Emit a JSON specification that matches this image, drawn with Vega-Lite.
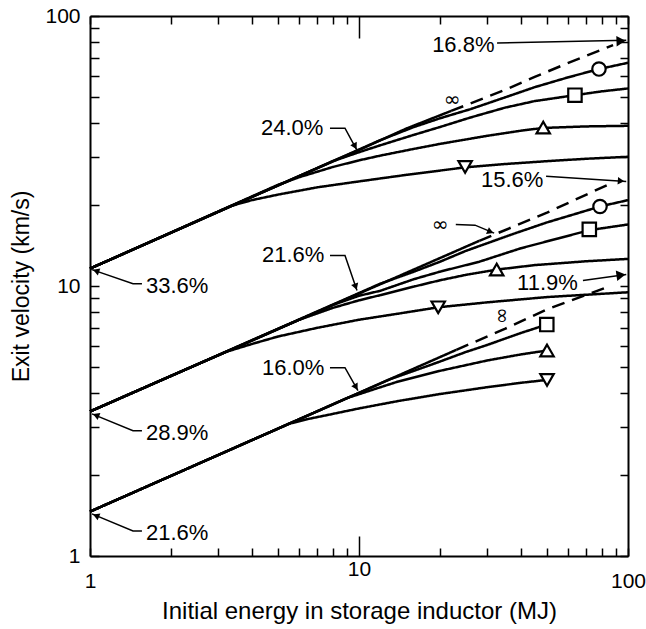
{
  "$schema": "https://vega.github.io/schema/vega-lite/v6.json",
  "width": 538,
  "height": 540,
  "autosize": {"type": "none"},
  "padding": {"left": 90, "top": 16, "right": 18, "bottom": 73},
  "background": "white",
  "config": {"view": {"stroke": null}, "font": "Liberation Sans"},
  "datasets": {
    "curves": [
      {"series": "A-inf", "trace": "computed", "E": 1, "v": 11.6},
      {"series": "A-inf", "trace": "computed", "E": 3.35, "v": 19.8},
      {"series": "A-inf", "trace": "computed", "E": 10, "v": 31.9},
      {"series": "A-inf", "trace": "computed", "E": 15, "v": 38.3},
      {"series": "A-inf", "trace": "computed", "E": 22, "v": 44.5},
      {"series": "A-inf-x", "trace": "extrapolated", "E": 22, "v": 44.5},
      {"series": "A-inf-x", "trace": "extrapolated", "E": 35, "v": 53.3},
      {"series": "A-inf-x", "trace": "extrapolated", "E": 45, "v": 59.5},
      {"series": "A-inf-x", "trace": "extrapolated", "E": 60, "v": 67},
      {"series": "A-inf-x", "trace": "extrapolated", "E": 88, "v": 78},
      {"series": "A-o", "trace": "computed", "E": 1, "v": 11.6},
      {"series": "A-o", "trace": "computed", "E": 12, "v": 34.7},
      {"series": "A-o", "trace": "computed", "E": 16, "v": 38.8},
      {"series": "A-o", "trace": "computed", "E": 20, "v": 41.8},
      {"series": "A-o", "trace": "computed", "E": 26, "v": 45.2},
      {"series": "A-o", "trace": "computed", "E": 35, "v": 50.0},
      {"series": "A-o", "trace": "computed", "E": 45, "v": 54.5},
      {"series": "A-o", "trace": "computed", "E": 60, "v": 59.3},
      {"series": "A-o", "trace": "computed", "E": 78, "v": 63.6},
      {"series": "A-o", "trace": "computed", "E": 100, "v": 67.1},
      {"series": "A-sq", "trace": "computed", "E": 1, "v": 11.6},
      {"series": "A-sq", "trace": "computed", "E": 8, "v": 29.0},
      {"series": "A-sq", "trace": "computed", "E": 10, "v": 31.3},
      {"series": "A-sq", "trace": "computed", "E": 12, "v": 33.2},
      {"series": "A-sq", "trace": "computed", "E": 16, "v": 36.3},
      {"series": "A-sq", "trace": "computed", "E": 20, "v": 38.8},
      {"series": "A-sq", "trace": "computed", "E": 26, "v": 42.1},
      {"series": "A-sq", "trace": "computed", "E": 35, "v": 45.8},
      {"series": "A-sq", "trace": "computed", "E": 45, "v": 48.4},
      {"series": "A-sq", "trace": "computed", "E": 63.5, "v": 50.9},
      {"series": "A-sq", "trace": "computed", "E": 80, "v": 52.6},
      {"series": "A-sq", "trace": "computed", "E": 100, "v": 53.9},
      {"series": "A-up", "trace": "computed", "E": 1, "v": 11.6},
      {"series": "A-up", "trace": "computed", "E": 5, "v": 23.7},
      {"series": "A-up", "trace": "computed", "E": 6, "v": 25.3},
      {"series": "A-up", "trace": "computed", "E": 8, "v": 27.6},
      {"series": "A-up", "trace": "computed", "E": 10, "v": 29.2},
      {"series": "A-up", "trace": "computed", "E": 12, "v": 30.4},
      {"series": "A-up", "trace": "computed", "E": 16, "v": 32.2},
      {"series": "A-up", "trace": "computed", "E": 20, "v": 33.6},
      {"series": "A-up", "trace": "computed", "E": 30, "v": 36.0},
      {"series": "A-up", "trace": "computed", "E": 40, "v": 37.6},
      {"series": "A-up", "trace": "computed", "E": 48.4, "v": 38.5},
      {"series": "A-up", "trace": "computed", "E": 70, "v": 39.0},
      {"series": "A-up", "trace": "computed", "E": 100, "v": 39.2},
      {"series": "A-dn", "trace": "computed", "E": 1, "v": 11.6},
      {"series": "A-dn", "trace": "computed", "E": 3.35, "v": 19.8},
      {"series": "A-dn", "trace": "computed", "E": 4, "v": 20.8},
      {"series": "A-dn", "trace": "computed", "E": 5, "v": 21.8},
      {"series": "A-dn", "trace": "computed", "E": 7, "v": 23.2},
      {"series": "A-dn", "trace": "computed", "E": 10, "v": 24.4},
      {"series": "A-dn", "trace": "computed", "E": 15, "v": 25.8},
      {"series": "A-dn", "trace": "computed", "E": 24.8, "v": 27.5},
      {"series": "A-dn", "trace": "computed", "E": 35, "v": 28.3},
      {"series": "A-dn", "trace": "computed", "E": 50, "v": 29.0},
      {"series": "A-dn", "trace": "computed", "E": 70, "v": 29.6},
      {"series": "A-dn", "trace": "computed", "E": 100, "v": 30.1},
      {"series": "B-inf", "trace": "computed", "E": 1, "v": 3.43},
      {"series": "B-inf", "trace": "computed", "E": 28, "v": 14.7},
      {"series": "B-inf-x", "trace": "extrapolated", "E": 28, "v": 14.7},
      {"series": "B-inf-x", "trace": "extrapolated", "E": 50, "v": 18.7},
      {"series": "B-inf-x", "trace": "extrapolated", "E": 88, "v": 24.2},
      {"series": "B-o", "trace": "computed", "E": 1, "v": 3.43},
      {"series": "B-o", "trace": "computed", "E": 12, "v": 10.2},
      {"series": "B-o", "trace": "computed", "E": 16, "v": 11.3},
      {"series": "B-o", "trace": "computed", "E": 20, "v": 12.3},
      {"series": "B-o", "trace": "computed", "E": 25, "v": 13.5},
      {"series": "B-o", "trace": "computed", "E": 37.5, "v": 15.6},
      {"series": "B-o", "trace": "computed", "E": 50, "v": 17.2},
      {"series": "B-o", "trace": "computed", "E": 65, "v": 18.6},
      {"series": "B-o", "trace": "computed", "E": 78.7, "v": 19.7},
      {"series": "B-o", "trace": "computed", "E": 100, "v": 20.8},
      {"series": "B-sq", "trace": "computed", "E": 1, "v": 3.43},
      {"series": "B-sq", "trace": "computed", "E": 8, "v": 8.51},
      {"series": "B-sq", "trace": "computed", "E": 10, "v": 9.2},
      {"series": "B-sq", "trace": "computed", "E": 12, "v": 9.6},
      {"series": "B-sq", "trace": "computed", "E": 16, "v": 10.6},
      {"series": "B-sq", "trace": "computed", "E": 20, "v": 11.3},
      {"series": "B-sq", "trace": "computed", "E": 28, "v": 12.3},
      {"series": "B-sq", "trace": "computed", "E": 40, "v": 13.8},
      {"series": "B-sq", "trace": "computed", "E": 55, "v": 15.0},
      {"series": "B-sq", "trace": "computed", "E": 71.8, "v": 16.1},
      {"series": "B-sq", "trace": "computed", "E": 100, "v": 16.9},
      {"series": "B-up", "trace": "computed", "E": 1, "v": 3.43},
      {"series": "B-up", "trace": "computed", "E": 6, "v": 7.5},
      {"series": "B-up", "trace": "computed", "E": 8, "v": 8.3},
      {"series": "B-up", "trace": "computed", "E": 10, "v": 8.85},
      {"series": "B-up", "trace": "computed", "E": 12, "v": 9.25},
      {"series": "B-up", "trace": "computed", "E": 16, "v": 9.95},
      {"series": "B-up", "trace": "computed", "E": 20, "v": 10.5},
      {"series": "B-up", "trace": "computed", "E": 25, "v": 11.0},
      {"series": "B-up", "trace": "computed", "E": 32.5, "v": 11.5},
      {"series": "B-up", "trace": "computed", "E": 45, "v": 11.95},
      {"series": "B-up", "trace": "computed", "E": 70, "v": 12.35},
      {"series": "B-up", "trace": "computed", "E": 100, "v": 12.6},
      {"series": "B-dn", "trace": "computed", "E": 1, "v": 3.43},
      {"series": "B-dn", "trace": "computed", "E": 3.2, "v": 5.7},
      {"series": "B-dn", "trace": "computed", "E": 4, "v": 6.1},
      {"series": "B-dn", "trace": "computed", "E": 5, "v": 6.5},
      {"series": "B-dn", "trace": "computed", "E": 7, "v": 7.0},
      {"series": "B-dn", "trace": "computed", "E": 10, "v": 7.5},
      {"series": "B-dn", "trace": "computed", "E": 14, "v": 7.9},
      {"series": "B-dn", "trace": "computed", "E": 19.7, "v": 8.34},
      {"series": "B-dn", "trace": "computed", "E": 30, "v": 8.7},
      {"series": "B-dn", "trace": "computed", "E": 50, "v": 9.1},
      {"series": "B-dn", "trace": "computed", "E": 100, "v": 9.48},
      {"series": "C-inf", "trace": "computed", "E": 1, "v": 1.46},
      {"series": "C-inf", "trace": "computed", "E": 23, "v": 5.8},
      {"series": "C-inf-x", "trace": "extrapolated", "E": 23, "v": 5.8},
      {"series": "C-inf-x", "trace": "extrapolated", "E": 35, "v": 6.95},
      {"series": "C-inf-x", "trace": "extrapolated", "E": 50, "v": 8.2},
      {"series": "C-inf-x", "trace": "extrapolated", "E": 86, "v": 10.0},
      {"series": "C-sq", "trace": "computed", "E": 1, "v": 1.46},
      {"series": "C-sq", "trace": "computed", "E": 13, "v": 4.51},
      {"series": "C-sq", "trace": "computed", "E": 16, "v": 4.85},
      {"series": "C-sq", "trace": "computed", "E": 20, "v": 5.25},
      {"series": "C-sq", "trace": "computed", "E": 25, "v": 5.7},
      {"series": "C-sq", "trace": "computed", "E": 30, "v": 6.05},
      {"series": "C-sq", "trace": "computed", "E": 40, "v": 6.7},
      {"series": "C-sq", "trace": "computed", "E": 50, "v": 7.2},
      {"series": "C-up", "trace": "computed", "E": 1, "v": 1.46},
      {"series": "C-up", "trace": "computed", "E": 9, "v": 3.84},
      {"series": "C-up", "trace": "computed", "E": 11, "v": 4.1},
      {"series": "C-up", "trace": "computed", "E": 14, "v": 4.43},
      {"series": "C-up", "trace": "computed", "E": 20, "v": 4.85},
      {"series": "C-up", "trace": "computed", "E": 30, "v": 5.3},
      {"series": "C-up", "trace": "computed", "E": 40, "v": 5.58},
      {"series": "C-up", "trace": "computed", "E": 50, "v": 5.77},
      {"series": "C-dn", "trace": "computed", "E": 1, "v": 1.46},
      {"series": "C-dn", "trace": "computed", "E": 5.5, "v": 3.09},
      {"series": "C-dn", "trace": "computed", "E": 6.5, "v": 3.22},
      {"series": "C-dn", "trace": "computed", "E": 8, "v": 3.36},
      {"series": "C-dn", "trace": "computed", "E": 10, "v": 3.52},
      {"series": "C-dn", "trace": "computed", "E": 14, "v": 3.75},
      {"series": "C-dn", "trace": "computed", "E": 20, "v": 3.98},
      {"series": "C-dn", "trace": "computed", "E": 30, "v": 4.22},
      {"series": "C-dn", "trace": "computed", "E": 40, "v": 4.38},
      {"series": "C-dn", "trace": "computed", "E": 50, "v": 4.49}
    ],
    "markers": [
      {"marker": "circle", "E": 78, "v": 63.6},
      {"marker": "square", "E": 63.5, "v": 50.9},
      {"marker": "triangle", "E": 48.4, "v": 38.6},
      {"marker": "inverted triangle", "E": 24.8, "v": 27.6},
      {"marker": "circle", "E": 78.7, "v": 19.7},
      {"marker": "square", "E": 71.8, "v": 16.2},
      {"marker": "triangle", "E": 32.5, "v": 11.5},
      {"marker": "inverted triangle", "E": 19.7, "v": 8.34},
      {"marker": "square", "E": 49.9, "v": 7.2},
      {"marker": "triangle", "E": 50, "v": 5.77},
      {"marker": "inverted triangle", "E": 50, "v": 4.49}
    ],
    "leaders": [
      {"id": "33.6", "step": 1, "E": 1.56, "v": 10.2},
      {"id": "33.6", "step": 2, "E": 1.445, "v": 10.2},
      {"id": "33.6", "step": 3, "E": 1.017, "v": 11.5},
      {"id": "28.9", "step": 1, "E": 1.56, "v": 2.91},
      {"id": "28.9", "step": 2, "E": 1.445, "v": 2.91},
      {"id": "28.9", "step": 3, "E": 1.017, "v": 3.36},
      {"id": "21.6b", "step": 1, "E": 1.56, "v": 1.238},
      {"id": "21.6b", "step": 2, "E": 1.445, "v": 1.238},
      {"id": "21.6b", "step": 3, "E": 1.017, "v": 1.432},
      {"id": "24.0", "step": 1, "E": 7.8, "v": 38.4},
      {"id": "24.0", "step": 2, "E": 8.87, "v": 38.4},
      {"id": "24.0", "step": 3, "E": 9.83, "v": 31.8},
      {"id": "21.6m", "step": 1, "E": 7.8, "v": 12.98},
      {"id": "21.6m", "step": 2, "E": 8.87, "v": 12.98},
      {"id": "21.6m", "step": 3, "E": 9.83, "v": 9.62},
      {"id": "16.0", "step": 1, "E": 7.8, "v": 4.98},
      {"id": "16.0", "step": 2, "E": 8.87, "v": 4.98},
      {"id": "16.0", "step": 3, "E": 9.91, "v": 4.1},
      {"id": "16.8", "step": 1, "E": 32.6, "v": 79.5},
      {"id": "16.8", "step": 2, "E": 98.5, "v": 81.3},
      {"id": "15.6", "step": 1, "E": 49.6, "v": 25.5},
      {"id": "15.6", "step": 2, "E": 98.5, "v": 24.4},
      {"id": "11.9", "step": 1, "E": 68, "v": 10.48},
      {"id": "11.9", "step": 2, "E": 98.5, "v": 11.03},
      {"id": "infB", "step": 1, "E": 22.9, "v": 16.9},
      {"id": "infB", "step": 2, "E": 27, "v": 16.8},
      {"id": "infB", "step": 3, "E": 31.8, "v": 15.7}
    ],
    "arrowheads": [
      {"id": "33.6", "E": 1.053, "v": 11.38, "heading": 199},
      {"id": "28.9", "E": 1.053, "v": 3.32, "heading": 202},
      {"id": "21.6b", "E": 1.053, "v": 1.411, "heading": 202},
      {"id": "24.0", "E": 9.67, "v": 32.9, "heading": 61},
      {"id": "21.6m", "E": 9.72, "v": 9.94, "heading": 71},
      {"id": "16.0", "E": 9.75, "v": 4.22, "heading": 60},
      {"id": "16.8", "E": 94.2, "v": 80.8, "heading": 358},
      {"id": "15.6", "E": 94.2, "v": 24.5, "heading": 4},
      {"id": "11.9", "E": 94.2, "v": 10.97, "heading": 352},
      {"id": "infB", "E": 30.8, "v": 15.87, "heading": 23}
    ],
    "labels": [
      {"text": "33.6%", "E": 1.615, "v": 9.96},
      {"text": "28.9%", "E": 1.615, "v": 2.86},
      {"text": "21.6%", "E": 1.615, "v": 1.217},
      {"text": "24.0%", "E": 4.32, "v": 38.4},
      {"text": "21.6%", "E": 4.36, "v": 12.98},
      {"text": "16.0%", "E": 4.36, "v": 4.98},
      {"text": "16.8%", "E": 18.7, "v": 78},
      {"text": "15.6%", "E": 28.4, "v": 24.6},
      {"text": "11.9%", "E": 38.7, "v": 10.3}
    ],
    "infinity": [
      {"text": "∞", "E": 22.2, "v": 48.8},
      {"text": "∞", "E": 20.0, "v": 16.8}
    ]
  },
  "layer": [
    {
      "data": {"name": "curves"},
      "mark": {"type": "line", "interpolate": "linear", "strokeWidth": 2.5, "color": "black", "strokeJoin": "round"},
      "encoding": {
        "x": {
          "field": "E", "type": "quantitative",
          "scale": {"type": "log", "domain": [1, 100], "nice": false},
          "axis": {
            "orient": "bottom",
            "values": [1, 2, 3, 4, 5, 6, 7, 8, 9, 10, 20, 30, 40, 50, 60, 70, 80, 90, 100],
            "grid": false,
            "tickSize": {"condition": {"test": "datum.value == 10", "value": -20}, "value": -8},
            "tickWidth": 1.5, "tickColor": "black",
            "domainColor": "black", "domainWidth": 2,
            "labelExpr": "datum.value == 1 || datum.value == 10 || datum.value == 100 ? datum.value + '' : ''",
            "labelFont": "Liberation Sans", "labelFontSize": 21, "labelColor": "black",
            "labelBaseline": "alphabetic", "labelPadding": 39, "labelFlush": false, "labelOverlap": false,
            "title": "Initial energy in storage inductor (MJ)",
            "titleFont": "Liberation Sans", "titleFontSize": 24, "titleFontWeight": "normal", "titleColor": "black",
            "titleY": 62, "titleBaseline": "alphabetic"
          }
        },
        "y": {
          "field": "v", "type": "quantitative",
          "scale": {"type": "log", "domain": [1, 100], "nice": false},
          "axis": {
            "orient": "left",
            "values": [1, 2, 3, 4, 5, 6, 7, 8, 9, 10, 20, 30, 40, 50, 60, 70, 80, 90, 100],
            "grid": false,
            "tickSize": -9, "tickWidth": 1.5, "tickColor": "black",
            "domainColor": "black", "domainWidth": 2,
            "labelExpr": "datum.value == 1 || datum.value == 10 || datum.value == 100 ? datum.value + '' : ''",
            "labelFont": "Liberation Sans", "labelFontSize": 21, "labelColor": "black",
            "labelBaseline": "middle", "labelPadding": 19, "labelFlush": false, "labelOverlap": false,
            "title": "Exit velocity (km/s)",
            "titleFont": "Liberation Sans", "titleFontSize": 23, "titleFontWeight": "normal", "titleColor": "black",
            "titleX": -62, "titleY": 270, "titleBaseline": "alphabetic", "titleAlign": "center"
          }
        },
        "detail": {"field": "series", "type": "nominal"},
        "strokeDash": {
          "field": "trace", "type": "nominal",
          "scale": {"domain": ["computed", "extrapolated"], "range": [[1, 0], [13, 8]]},
          "legend": null
        }
      }
    },
    {
      "data": {"name": "markers"},
      "mark": {"type": "point", "filled": true, "fill": "white", "stroke": "black", "strokeWidth": 2.2, "size": 180, "opacity": 1},
      "encoding": {
        "x": {
          "field": "E", "type": "quantitative",
          "scale": {"type": "log", "domain": [1, 100], "nice": false},
          "axis": {
            "orient": "top",
            "values": [1, 2, 3, 4, 5, 6, 7, 8, 9, 10, 20, 30, 40, 50, 60, 70, 80, 90, 100],
            "grid": false, "labels": false, "title": null,
            "tickSize": {"condition": {"test": "datum.value == 10", "value": -22}, "value": -8},
            "tickWidth": 1.5, "tickColor": "black",
            "domainColor": "black", "domainWidth": 2
          }
        },
        "y": {
          "field": "v", "type": "quantitative",
          "scale": {"type": "log", "domain": [1, 100], "nice": false},
          "axis": {
            "orient": "right",
            "values": [1, 2, 3, 4, 5, 6, 7, 8, 9, 10, 20, 30, 40, 50, 60, 70, 80, 90, 100],
            "grid": false, "labels": false, "title": null,
            "tickSize": -8, "tickWidth": 1.5, "tickColor": "black",
            "domainColor": "black", "domainWidth": 2
          }
        },
        "shape": {
          "field": "marker", "type": "nominal",
          "scale": {"domain": ["circle", "square", "triangle", "inverted triangle"], "range": ["circle", "square", "triangle-up", "triangle-down"]},
          "legend": null
        }
      }
    },
    {
      "data": {"name": "leaders"},
      "mark": {"type": "line", "strokeWidth": 1.5, "color": "black"},
      "encoding": {
        "x": {"field": "E", "type": "quantitative", "scale": {"type": "log", "domain": [1, 100], "nice": false}, "axis": null},
        "y": {"field": "v", "type": "quantitative", "scale": {"type": "log", "domain": [1, 100], "nice": false}, "axis": null},
        "detail": {"field": "id", "type": "nominal"},
        "order": {"field": "step", "type": "quantitative"}
      }
    },
    {
      "data": {"name": "arrowheads"},
      "mark": {"type": "point", "shape": "triangle-right", "filled": true, "color": "black", "opacity": 1},
      "encoding": {
        "x": {"field": "E", "type": "quantitative", "scale": {"type": "log", "domain": [1, 100], "nice": false}, "axis": null},
        "y": {"field": "v", "type": "quantitative", "scale": {"type": "log", "domain": [1, 100], "nice": false}, "axis": null},
        "angle": {"field": "heading", "type": "quantitative", "scale": null},
        "size": {"condition": {"test": "datum.id == '16.8' || datum.id == '11.9'", "value": 110}, "value": 55}
      }
    },
    {
      "data": {"name": "labels"},
      "mark": {"type": "text", "align": "left", "baseline": "middle", "font": "Liberation Sans", "fontSize": 22, "color": "black"},
      "encoding": {
        "x": {"field": "E", "type": "quantitative", "scale": {"type": "log", "domain": [1, 100], "nice": false}, "axis": null},
        "y": {"field": "v", "type": "quantitative", "scale": {"type": "log", "domain": [1, 100], "nice": false}, "axis": null},
        "text": {"field": "text"}
      }
    },
    {
      "data": {"name": "infinity"},
      "mark": {"type": "text", "align": "center", "baseline": "middle", "font": "DejaVu Sans", "fontSize": 20, "color": "black"},
      "encoding": {
        "x": {"field": "E", "type": "quantitative", "scale": {"type": "log", "domain": [1, 100], "nice": false}, "axis": null},
        "y": {"field": "v", "type": "quantitative", "scale": {"type": "log", "domain": [1, 100], "nice": false}, "axis": null},
        "text": {"field": "text"}
      }
    },
    {
      "data": {"values": [{"text": "∞", "E": 34.0, "v": 7.77}]},
      "mark": {"type": "text", "align": "center", "baseline": "middle", "font": "DejaVu Sans", "fontSize": 20, "color": "black", "angle": 90},
      "encoding": {
        "x": {"field": "E", "type": "quantitative", "scale": {"type": "log", "domain": [1, 100], "nice": false}, "axis": null},
        "y": {"field": "v", "type": "quantitative", "scale": {"type": "log", "domain": [1, 100], "nice": false}, "axis": null},
        "text": {"field": "text"}
      }
    }
  ],
  "resolve": {"axis": {"x": "independent", "y": "independent"}}
}
